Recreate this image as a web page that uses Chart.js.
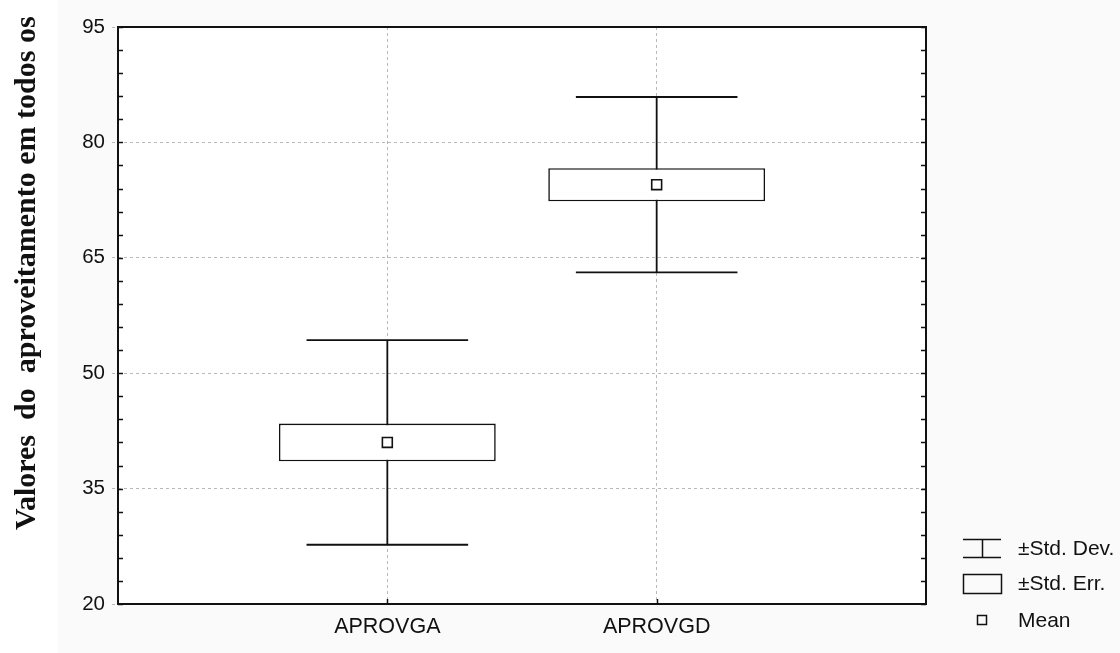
<!DOCTYPE html>
<html>
<head>
<meta charset="utf-8">
<script src="https://cdn.jsdelivr.net/npm/chart.js@4.4.1/dist/chart.umd.min.js"></script>
<style>
  body { margin: 0; background: #fafafa; }
  #wrap { width: 1120px; height: 653px; }
</style>
</head>
<body>
<div id="wrap"><canvas id="boxChart" width="1120" height="653"></canvas></div>
<script>
// values
const categories = ['APROVGA', 'APROVGD'];
const means = [41.0, 74.5];
const stdErr = [2.45, 2.15];
const stdDev = [13.3, 11.4];
const yTicks = [20, 35, 50, 65, 80, 95];
const legendLabels = ['\u00b1Std. Dev.', '\u00b1Std. Err.', 'Mean'];
const yTitle = 'Valores  do  aproveitamento em todos os';

const ink = '#111111';
const capHalf = 0.3;

// whisker lines (vertical + caps), gaps with null
const whiskerPts = [];
categories.forEach((c, i) => {
	const x = i + 1, hi = means[i] + stdDev[i], lo = means[i] - stdDev[i];
	whiskerPts.push({x: x, y: hi}, {x: x, y: lo}, {x: x, y: null});
	whiskerPts.push({x: x - capHalf, y: hi}, {x: x + capHalf, y: hi}, {x: x, y: null});
	whiskerPts.push({x: x - capHalf, y: lo}, {x: x + capHalf, y: lo}, {x: x, y: null});
});
const boxPts = categories.map((c, i) => ({x: i + 1, y: [means[i] - stdErr[i], means[i] + stdErr[i]]}));
const meanPts = categories.map((c, i) => ({x: i + 1, y: means[i]}));

const decor = {
	id: 'decor',
	beforeDraw(chart) {
		const {ctx, chartArea: a} = chart;
		ctx.save();
		ctx.fillStyle = '#fafafa';
		ctx.fillRect(0, 0, chart.width, chart.height);
		ctx.fillStyle = '#ffffff';
		ctx.fillRect(0, 0, 58, chart.height);
		ctx.fillRect(a.left, a.top, a.right - a.left, a.bottom - a.top);
		ctx.restore();
	},
	afterDraw(chart) {
		const {ctx, chartArea: a, scales: {x, y}} = chart;
		ctx.save();
		// frame
		ctx.strokeStyle = ink;
		ctx.lineWidth = 2;
		ctx.strokeRect(a.left, a.top, a.right - a.left, a.bottom - a.top);
		// minor ticks inside, every 3 units
		ctx.lineWidth = 1.5;
		ctx.beginPath();
		for (let v = y.min; v <= y.max; v += 3) {
			const py = Math.round(y.getPixelForValue(v)) + 0.5;
			ctx.moveTo(a.left, py); ctx.lineTo(a.left + 5, py);
			ctx.moveTo(a.right, py); ctx.lineTo(a.right - 5, py);
		}
		categories.forEach((c, i) => {
			const px = Math.round(x.getPixelForValue(i + 1)) + 0.5;
			ctx.moveTo(px, a.bottom); ctx.lineTo(px, a.bottom - 5);
		});
		ctx.stroke();

		// y title
		ctx.fillStyle = ink;
		ctx.font = 'bold 30px "Liberation Serif", "Times New Roman", serif';
		ctx.textAlign = 'left';
		ctx.textBaseline = 'alphabetic';
		ctx.translate(35, 530);
		ctx.rotate(-Math.PI / 2);
		ctx.fillText(yTitle, 0, 0);
		ctx.restore();

		// legend
		ctx.save();
		ctx.strokeStyle = ink;
		ctx.fillStyle = ink;
		ctx.lineWidth = 1.5;
		ctx.beginPath();
		ctx.moveTo(963, 539.5); ctx.lineTo(1001, 539.5);
		ctx.moveTo(963, 557.5); ctx.lineTo(1001, 557.5);
		ctx.moveTo(982.5, 539.5); ctx.lineTo(982.5, 557.5);
		ctx.stroke();
		ctx.strokeRect(963.5, 574.5, 38, 19);
		ctx.strokeRect(977.5, 615.5, 9, 9);
		ctx.font = '21px "Liberation Sans", Arial, sans-serif';
		ctx.textBaseline = 'middle';
		ctx.fillText(legendLabels[0], 1018, 549);
		ctx.fillText(legendLabels[1], 1018, 584);
		ctx.fillText(legendLabels[2], 1018, 621);
		ctx.restore();
	}
};

const ctx = document.getElementById('boxChart').getContext('2d');
new Chart(ctx, {
	data: {
		datasets: [
			{
				type: 'line',
				data: whiskerPts,
				borderColor: ink,
				borderWidth: 1.8,
				pointRadius: 0,
				spanGaps: false,
				order: 3
			},
			{
				type: 'bar',
				data: boxPts,
				backgroundColor: '#ffffff',
				borderColor: ink,
				borderWidth: 1.6,
				borderSkipped: false,
				barPercentage: 0.805,
				categoryPercentage: 1,
				order: 2
			},
			{
				type: 'scatter',
				data: meanPts,
				pointStyle: 'rect',
				pointRadius: 7,
				backgroundColor: '#ffffff',
				borderColor: ink,
				borderWidth: 1.6,
				order: 1
			}
		]
	},
	options: {
		responsive: false,
		animation: false,
		layout: { padding: { left: 0, top: 27, right: 194, bottom: 0 } },
		plugins: { legend: { display: false }, tooltip: { enabled: false } },
		scales: {
			x: {
				type: 'linear',
				min: 0,
				max: categories.length + 1,
				offset: false,
				afterBuildTicks(scale) {
					scale.ticks = categories.map((c, i) => ({ value: i + 1 }));
				},
				afterFit(scale) { scale.height = 49; },
				ticks: {
					color: ink,
					font: { family: '"Liberation Sans", Arial, sans-serif', size: 21.5 },
					padding: 10,
					autoSkip: false,
					maxRotation: 0,
					callback: (v) => categories[v - 1] || ''
				},
				grid: { color: '#b8b8b8', lineWidth: 1, drawTicks: false, offset: false },
				border: { display: false, dash: [3, 3] }
			},
			y: {
				min: yTicks[0],
				max: yTicks[yTicks.length - 1],
				afterBuildTicks(scale) {
					scale.ticks = yTicks.map(v => ({ value: v }));
				},
				afterFit(scale) { scale.width = 118; },
				ticks: {
					color: ink,
					font: { family: '"Liberation Sans", Arial, sans-serif', size: 20.5 },
					padding: 7
				},
				grid: { color: '#b8b8b8', lineWidth: 1, tickLength: 6, tickColor: '#b8b8b8', tickBorderDash: [3, 3] },
				border: { display: false, dash: [3, 3] }
			}
		}
	},
	plugins: [decor]
});
</script>
</body>
</html>
